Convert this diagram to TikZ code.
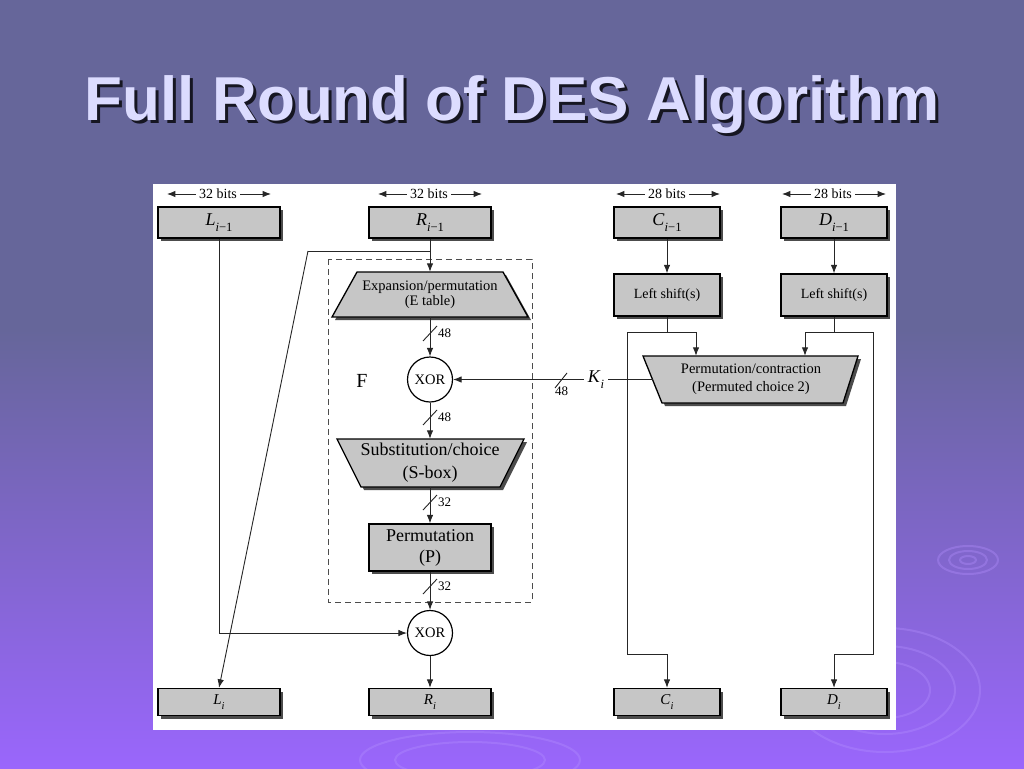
\documentclass[tikz,border=0pt]{standalone}
\usepackage{fontspec}
\setmainfont{Liberation Serif}
\newfontfamily\titlefont{Liberation Sans}
\usetikzlibrary{arrows.meta,shadows}
\definecolor{bgtop}{HTML}{66669A}
\definecolor{bgbot}{HTML}{9A66FC}
\definecolor{boxgray}{HTML}{C6C6C6}
\definecolor{titlecol}{HTML}{DCDCFF}
\definecolor{ripple}{HTML}{B490FF}
\newcommand\symsub[3]{\fontsize{#3}{#3}\selectfont\textit{#1}\raisebox{-0.3em}{\fontsize{0.7\dimexpr#3pt\relax}{10}\selectfont #2}}
\begin{document}
\begin{tikzpicture}[x=1pt,y=-1pt]
\tikzset{
 gbox/.style={draw=black, line width=1.3pt, fill=boxgray,
   drop shadow={shadow xshift=3pt, shadow yshift=-3pt, fill=black!70, opacity=1},
   inner sep=0pt, align=center},
 tshadow/.style={fill=black!70, draw=none},
 tz/.style={draw=black, line width=1.3pt, fill=boxgray},
 conn/.style={draw=black!85, line width=0.9pt},
 arr/.style={conn, -{Latex[length=8.5pt,width=6.5pt]}},
 xorc/.style={circle, draw=black, line width=1.2pt, fill=white, minimum size=45pt,
   inner sep=0pt, font=\fontsize{14.5}{14.5}\selectfont},
 bits/.style={font=\fontsize{14}{14}\selectfont, inner sep=3pt},
 num/.style={font=\fontsize{13}{13}\selectfont, anchor=west, inner sep=1pt},
 lab/.style={align=center, inner sep=0pt},
 rip/.style={draw=ripple, line width=2pt, opacity=0.35},
 ttl/.style={anchor=base, font=\titlefont\bfseries\fontsize{62}{62}\selectfont},
}
% background
\useasboundingbox (0,0) rectangle (1024,768);
\fill[bgtop] (0,0) rectangle (1024,330);
\shade[top color=bgtop, bottom color=bgbot] (0,329) rectangle (1024,768);
% ripples
\draw[rip] (968,560) ellipse (30 and 14);
\draw[rip] (968,560) ellipse (19 and 9);
\draw[rip] (968,560) ellipse (8 and 4);
\draw[rip] (885,690) ellipse (95 and 62);
\draw[rip] (885,690) ellipse (70 and 44);
\draw[rip] (885,690) ellipse (45 and 28);
\draw[rip] (470,760) ellipse (110 and 28);
\draw[rip] (470,760) ellipse (75 and 18);
% title with its drop shadow
\node[ttl, text=black!78!bgtop] (titleshadow) at (515,123) {Full Round of DES Algorithm};
\node[ttl, text=titlecol] (title) at (512,120) {Full Round of DES Algorithm};
% white panel
\fill[white] (153,184) rectangle (896,730);

% F dashed frame
\draw[draw=black!70, line width=1pt, dash pattern=on 6pt off 4pt] (328,259) rectangle (532,602);
\node[font=\fontsize{20}{20}\selectfont] (F) at (362,381) {F};

% bit width labels
\node[bits] (b1) at (218,194) {32 bits};
\node[bits] (b2) at (429,194) {32 bits};
\node[bits] (b3) at (667,194) {28 bits};
\node[bits] (b4) at (833,194) {28 bits};
\foreach \b in {b1,b2,b3,b4}{
  \draw[arr] (\b.west) -- +(-29,0);
  \draw[arr] (\b.east) -- +(31,0);
}

% top boxes
\node[gbox, minimum width=122pt, minimum height=31pt] (Lm) at (219,222.5) {\symsub{L}{\textit{i}−1}{18}};
\node[gbox, minimum width=122pt, minimum height=31pt] (Rm) at (430,222.5) {\symsub{R}{\textit{i}−1}{18}};
\node[gbox, minimum width=106pt, minimum height=31pt] (Cm) at (667,222.5) {\symsub{C}{\textit{i}−1}{18}};
\node[gbox, minimum width=106pt, minimum height=31pt] (Dm) at (834,222.5) {\symsub{D}{\textit{i}−1}{18}};

% shift boxes
\node[gbox, minimum width=106pt, minimum height=42pt, font=\fontsize{14}{14}\selectfont] (CS) at (667,295) {Left shift(s)};
\node[gbox, minimum width=106pt, minimum height=42pt, font=\fontsize{14}{14}\selectfont] (DS) at (834,295) {Left shift(s)};

% expansion trapezoid
\fill[tshadow] (335,320) -- (360,275) -- (506,275) -- (531,320) -- cycle;
\draw[tz] (332,317) -- (357,272) -- (503,272) -- (528,317) -- cycle;
\node[lab, minimum width=196pt, minimum height=45pt, font=\fontsize{14.5}{15}\selectfont] (E) at (430,294.5) {Expansion/permutation\\(E table)};

% substitution trapezoid
\fill[tshadow] (340,442) -- (527,442) -- (503,490) -- (364,490) -- cycle;
\draw[tz] (337,439) -- (524,439) -- (500,487) -- (361,487) -- cycle;
\node[lab, minimum width=187pt, minimum height=48pt, font=\fontsize{18}{23}\selectfont] (S) at (430,463) {Substitution/choice\\(S-box)};

% permutation box
\node[gbox, minimum width=122pt, minimum height=47pt, font=\fontsize{18}{21}\selectfont] (P) at (430,547.5) {Permutation\\(P)};

% PC2 trapezoid
\fill[tshadow] (646,359) -- (861,359) -- (846,406) -- (665,406) -- cycle;
\draw[tz] (643,356) -- (858,356) -- (843,403) -- (662,403) -- cycle;
\node[lab, minimum width=196pt, minimum height=47pt, font=\fontsize{14.5}{18}\selectfont] (PC) at (751,379.5) {Permutation/contraction\\(Permuted choice 2)};

% XORs
\node[xorc] (X1) at (430,379.5) {XOR};
\node[xorc] (X2) at (430,633) {XOR};

% K_i
\node[inner sep=4pt] (K) at (596,379.5) {\symsub{K}{\textit{i}}{18}};

% bottom boxes
\node[gbox, minimum width=122pt, minimum height=27pt] (Li) at (219,702) {\symsub{L}{\textit{i}}{15}};
\node[gbox, minimum width=122pt, minimum height=27pt] (Ri) at (430,702) {\symsub{R}{\textit{i}}{15}};
\node[gbox, minimum width=106pt, minimum height=27pt] (Ci) at (667,702) {\symsub{C}{\textit{i}}{15}};
\node[gbox, minimum width=106pt, minimum height=27pt] (Di) at (834,702) {\symsub{D}{\textit{i}}{15}};

% junction coordinates
\coordinate (rj) at (430,251);
\coordinate (rk) at (308,251);
\coordinate (jc) at (667,332);
\coordinate (jcl) at (627,332);
\coordinate (jcr) at (696,332);
\coordinate (jcb) at (627,654);
\coordinate (jd) at (834,332);
\coordinate (jdl) at (805,332);
\coordinate (jdr) at (873,332);
\coordinate (jdb) at (873,654);

% R path and F chain
\draw[arr] (Rm.south) -- (E.north);
\draw[conn] (rj) -- (rk);
\draw[arr] (rk) -- (Li.north);
\draw[arr] (E.south) -- (X1.north);
\draw[arr] (X1.south) -- (S.north);
\draw[arr] (S.south) -- (P.north);
\draw[arr] (P.south) -- (X2.north);
\draw[arr] (X2.south) -- (Ri.north);
\draw[arr] (Lm.south) |- (X2.west);

% key schedule
\draw[arr] (Cm.south) -- (CS.north);
\draw[arr] (Dm.south) -- (DS.north);
\draw[conn] (CS.south) -- (jc);
\draw[conn] (jcl) -- (jcr);
\draw[arr] (jcr) -- (jcr |- PC.north);
\draw[arr] (jcl) -- (jcb) -| (Ci.north);
\draw[conn] (DS.south) -- (jd);
\draw[conn] (jdr) -- (jdl);
\draw[arr] (jdl) -- (jdl |- PC.north);
\draw[arr] (jdr) -- (jdb) -| (Di.north);
\draw[conn] (PC.west) -- (K.east);
\draw[arr] (K.west) -- (X1.east);

% bus-width slashes
\draw[conn] (423,341) -- (437,326); \node[num] (n1) at (437,333) {48};
\draw[conn] (423,425) -- (437,410); \node[num] (n2) at (437,417) {48};
\draw[conn] (423,510) -- (437,495); \node[num] (n3) at (437,502) {32};
\draw[conn] (423,594) -- (437,579); \node[num] (n4) at (437,586) {32};
\draw[conn] (555,388) -- (567,373); \node[num] (n5) at (554,391) {48};
\end{tikzpicture}
\end{document}
